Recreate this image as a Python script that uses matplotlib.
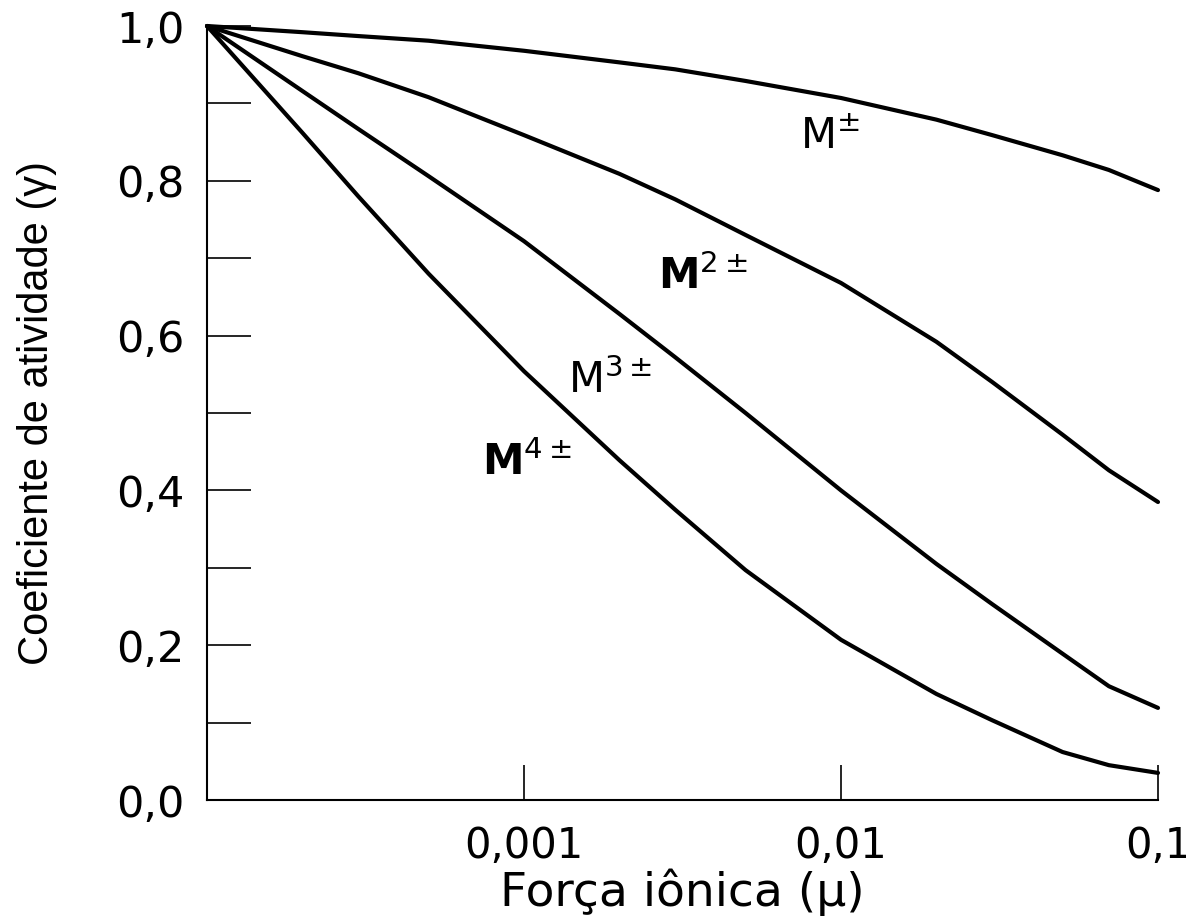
import matplotlib
matplotlib.use("Agg")
import matplotlib.pyplot as plt
from matplotlib.ticker import FixedLocator, FixedFormatter, NullLocator

# ---- data ----
mu = [1e-4, 2e-4, 3e-4, 5e-4, 1e-3, 2e-3, 3e-3, 5e-3, 1e-2, 2e-2, 3e-2, 5e-2, 7e-2, 1e-1]
gamma_m1 = [1.000, 0.992, 0.987, 0.981, 0.968, 0.953, 0.944, 0.929, 0.907, 0.879, 0.859, 0.833, 0.814, 0.788]
gamma_m2 = [1.000, 0.961, 0.939, 0.908, 0.859, 0.809, 0.776, 0.730, 0.668, 0.592, 0.540, 0.472, 0.426, 0.385]
gamma_m3 = [1.000, 0.916, 0.867, 0.806, 0.722, 0.628, 0.572, 0.500, 0.400, 0.305, 0.253, 0.189, 0.147, 0.119]
gamma_m4 = [1.000, 0.862, 0.780, 0.680, 0.554, 0.439, 0.375, 0.297, 0.207, 0.137, 0.103, 0.062, 0.045, 0.035]

series_labels = [r"M$^{\pm}$", r"$\mathbf{M}^{2\pm}$", r"M$^{3\pm}$", r"$\mathbf{M}^{4\pm}$"]

xtick_vals = [0.001, 0.01, 0.1]
xtick_labels = ["0,001", "0,01", "0,1"]
ytick_vals = [0.0, 0.2, 0.4, 0.6, 0.8, 1.0]
ytick_labels = ["0,0", "0,2", "0,4", "0,6", "0,8", "1,0"]
yminor_vals = [0.1, 0.3, 0.5, 0.7, 0.9]

xlabel = "Força iônica (μ)"
ylabel = "Coeficiente de atividade (γ)"

# ---- figure ----
plt.rcParams["font.family"] = ["DejaVu Sans"]
plt.rcParams["mathtext.fontset"] = "dejavusans"

W, H = 1186, 922
fig = plt.figure(figsize=(W / 100, H / 100), dpi=100)
ax = fig.add_axes([207 / W, (H - 800) / H, (1158 - 207) / W, (800 - 26) / H])

for g in (gamma_m1, gamma_m2, gamma_m3, gamma_m4):
    ax.plot(mu, g, color="black", lw=3.0, clip_on=False,
            solid_joinstyle="round", solid_capstyle="round")

ax.set_xscale("log")
ax.set_xlim(1e-4, 0.1)
ax.set_ylim(0, 1.0)

for s in ("top", "right"):
    ax.spines[s].set_visible(False)
for s in ("left", "bottom"):
    ax.spines[s].set_linewidth(1.5)

ax.xaxis.set_major_locator(FixedLocator(xtick_vals))
ax.xaxis.set_major_formatter(FixedFormatter(xtick_labels))
ax.xaxis.set_minor_locator(NullLocator())
ax.yaxis.set_major_locator(FixedLocator(ytick_vals))
ax.yaxis.set_major_formatter(FixedFormatter(ytick_labels))
ax.yaxis.set_minor_locator(FixedLocator(yminor_vals))

ax.tick_params(axis="x", which="major", direction="in", length=25, width=1.2,
               labelsize=30, pad=18)
ax.tick_params(axis="y", which="both", direction="in", length=32, width=1.2,
               labelsize=31, pad=16)

ax.set_xlabel(xlabel, fontsize=34)
ax.xaxis.set_label_coords(0.5, (800 - 868) / 774)
ax.set_ylabel(ylabel, fontsize=30, family=["Liberation Sans", "DejaVu Sans"])
ax.yaxis.set_label_coords((57 - 207) / 951, 0.5)

# curve labels
label_pos = [(0.00743, 0.842, "normal"), (0.00265, 0.660, "bold"),
             (0.00138, 0.526, "normal"), (0.000737, 0.420, "bold")]
for lab, (lx, ly, fw) in zip(series_labels, label_pos):
    ax.text(lx, ly, lab, fontsize=30, ha="left", va="baseline", fontweight=fw)

fig.savefig("out.png", dpi=100)
